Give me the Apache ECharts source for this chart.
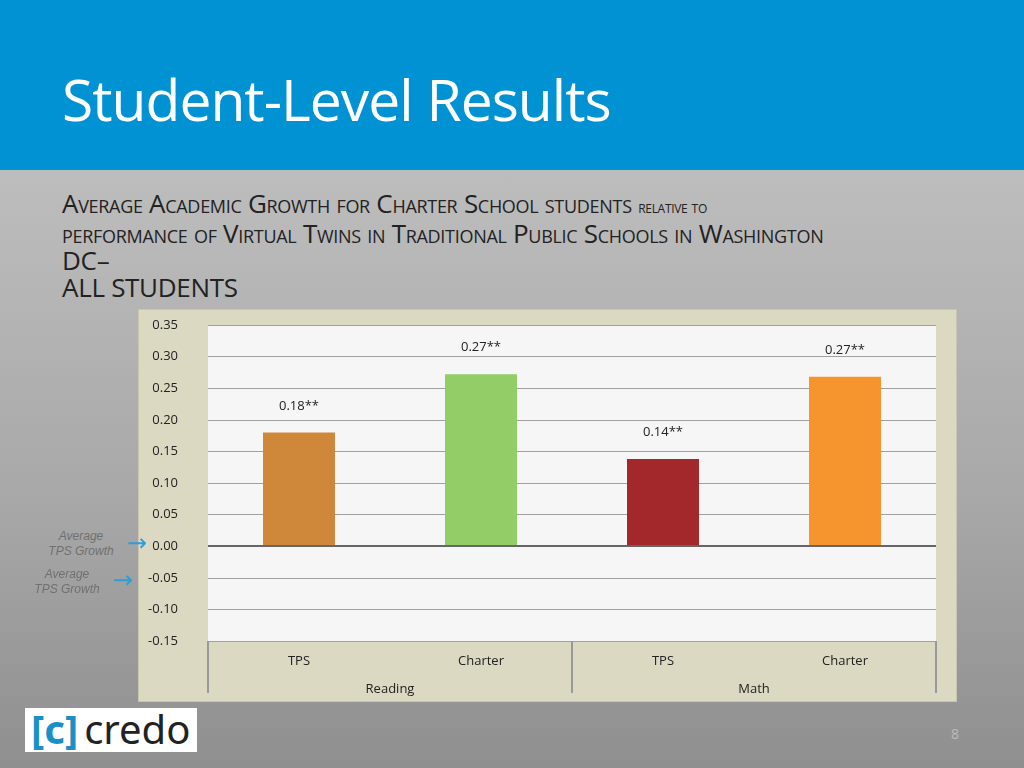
<!DOCTYPE html>
<html>
<head>
<meta charset="utf-8">
<script src="https://cdn.jsdelivr.net/npm/echarts@6/dist/echarts.min.js"></script>
<style>
body { margin: 0; width: 1024px; height: 768px; overflow: hidden; font-family: "Open Sans", sans-serif;
  background: linear-gradient(180deg, #bdbdbd 170px, #a8a8a8 500px, #8f8f8f 768px); position: relative; }
#head { position: absolute; left: 0; top: 0; width: 1024px; height: 170px; background: #0092d2; }
#head h1 { position: absolute; left: 62px; top: 60px; margin: 0; font-weight: normal; font-size: 57px; color: #fff; letter-spacing: -1px; }
#sub { position: absolute; left: 62px; top: 190px; width: 940px; font-size: 26px; line-height: 27px; color: #222; font-variant: small-caps; letter-spacing: -0.3px; }
#chart { position: absolute; left: 138px; top: 309px; width: 817px; height: 391px; background: #dcd9c3; border: 1px solid #c8c5b0; }
.note { position: absolute; font-family: "Liberation Sans", sans-serif; font-style: italic; font-size: 12px; color: #707070; text-align: center; line-height: 15px; }
.arr { position: absolute; color: #2a9fd8; font-size: 24px; line-height: 24px; font-family: "DejaVu Sans", sans-serif; }
#logo { position: absolute; left: 25px; top: 708px; width: 172px; height: 44px; background: #fff; font-family: "Noto Sans", sans-serif; font-size: 40px; line-height: 42px; color: #222; }
#logo span { color: #1a8fc8; font-weight: bold; margin: 0 6px 0 6px; }
#pg { position: absolute; left: 951px; top: 724px; color: #bbb; font-size: 14px; }
</style>
</head>
<body>
<div id="head"><h1>Student-Level Results</h1></div>
<div id="sub">Average Academic Growth for Charter School students <span style="font-size:17px">relative to</span><br>performance of Virtual Twins in Traditional Public Schools in Washington<br>DC–<br>ALL STUDENTS</div>
<div id="chart"></div>
<div class="note" style="left:45px;top:529px;width:72px">Average<br>TPS Growth</div>
<div class="arr" style="left:127px;top:531px">→</div>
<div class="note" style="left:31px;top:567px;width:72px">Average<br>TPS Growth</div>
<div class="arr" style="left:113px;top:568px">→</div>
<div id="logo"><span>[c]</span>credo</div>
<div id="pg">8</div>
<script>
var categories = ['TPS', 'Charter', 'TPS', 'Charter'];
var groups = ['Reading', 'Math'];
var values = [0.18, 0.272, 0.138, 0.268];
var labels = ['0.18**', '0.27**', '0.14**', '0.27**'];
var colors = ['#cf873a', '#93cd67', '#a3282b', '#f6952e'];
var yTicks = [-0.15, 0.35, 0.05];

var myChart = echarts.init(document.getElementById('chart'));
myChart.setOption({
    animation: false,
    grid: { left: 69, right: 20, top: 15, bottom: 60, show: true, backgroundColor: '#f6f6f6', borderWidth: 0 },
    xAxis: [
        {
            type: 'category', data: categories, position: 'bottom',
            axisLine: { show: false }, axisTick: { show: false },
            axisLabel: { color: '#222', fontSize: 13, margin: 14, fontFamily: 'Open Sans' }
        },
        {
            type: 'category', data: groups, position: 'bottom',
            axisLine: { show: false },
            axisTick: { show: true, length: 52, lineStyle: { color: '#999', width: 2 } },
            axisLabel: { color: '#222', fontSize: 13, margin: 42, fontFamily: 'Open Sans' }
        }
    ],
    yAxis: {
        type: 'value', min: yTicks[0], max: yTicks[1], interval: yTicks[2],
        axisLine: { show: false }, axisTick: { show: false },
        axisLabel: { color: '#222', fontSize: 13, margin: 30, fontFamily: 'Open Sans', formatter: function (v) { return v.toFixed(2); } },
        splitLine: { lineStyle: { color: '#a0a0a0', width: 1 } }
    },
    series: [{
        type: 'bar', barWidth: 72, xAxisIndex: 0,
        data: values.map(function (v, i) { return { value: v, itemStyle: { color: colors[i] } }; }),
        label: {
            show: true, position: 'top', distance: 20, color: '#222', fontSize: 13, fontFamily: 'Open Sans',
            formatter: function (p) { return labels[p.dataIndex]; }
        },
        markLine: { silent: true, symbol: 'none', label: { show: false }, lineStyle: { color: '#666', width: 2, type: 'solid' }, data: [{ yAxis: 0 }] }
    }]
});
</script>
</body>
</html>
